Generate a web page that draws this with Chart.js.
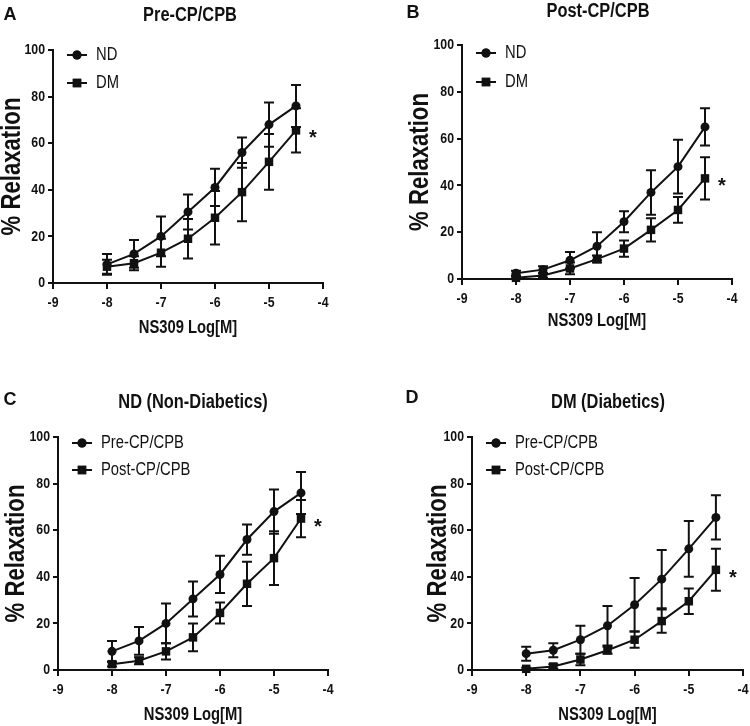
<!DOCTYPE html>
<html>
<head>
<meta charset="utf-8">
<script src="https://cdn.jsdelivr.net/npm/chart.js@4.4.1/dist/chart.umd.min.js"></script>
<style>
  body { margin: 0; background: #fff; }
  #page { position: relative; width: 750px; height: 726px; overflow: hidden; }
  .panel { position: absolute; }
</style>
</head>
<body>
<div id="page">
  <div class="panel" style="left:0;top:0"><canvas id="cA" width="375" height="350"></canvas></div>
  <div class="panel" style="left:375px;top:0"><canvas id="cB" width="375" height="350"></canvas></div>
  <div class="panel" style="left:0;top:360px"><canvas id="cC" width="375" height="366"></canvas></div>
  <div class="panel" style="left:375px;top:360px"><canvas id="cD" width="375" height="366"></canvas></div>
</div>
<script>
// NS309 concentrations (log M)
const doses = [-8, -7.5, -7, -6.5, -6, -5.5, -5, -4.5];
const xTicks = [-9, -8, -7, -6, -5, -4];
const yTicks = [0, 20, 40, 60, 80, 100];

// mean % relaxation and SEM
const preND = [8, 12.5, 20, 30.5, 41, 56, 68, 76];
const preNDErr = [4.5, 6, 8.5, 7.5, 8, 6.5, 9.5, 9];
const preDM = [7, 8.5, 13, 19, 28, 39, 52, 65.5];
const preDMErr = [3, 3, 6, 8.5, 11.5, 12.5, 12, 9.5];
const postND = [2.5, 4, 8, 14, 24.5, 37, 48, 65];
const postNDErr = [1, 1.5, 3.5, 6, 4.5, 9.5, 11.5, 8];
const postDM = [0.5, 1.5, 4.5, 8.5, 13, 21, 29.5, 43];
const postDMErr = [0.5, 1, 2.5, 1.5, 3.5, 5, 5.5, 9];

const INK = "#111";
const FONT = '"Liberation Sans", Arial, sans-serif';
const SQUEEZE = 0.82; // no condensed font installed, so squeeze Liberation Sans

const panels = [
  { id: "cA", letter: "A", title: "Pre-CP/CPB", names: ["ND", "DM"],
    series: [preND, preDM], errors: [preNDErr, preDMErr],
    w: 375, h: 350, area: [53, 323, 50, 283], yTitleX: 13, xTitleDy: 45,
    letterAt: [10, 15], titleAt: [190, 15], legendRows: [5, 33] },
  { id: "cB", letter: "B", title: "Post-CP/CPB", names: ["ND", "DM"],
    series: [postND, postDM], errors: [postNDErr, postDMErr],
    w: 375, h: 350, area: [87, 357, 45, 279], yTitleX: 46, xTitleDy: 42,
    letterAt: [38, 13], titleAt: [223, 11], legendRows: [8, 37] },
  { id: "cC", letter: "C", title: "ND (Non-Diabetics)", names: ["Pre-CP/CPB", "Post-CP/CPB"],
    series: [preND, postND], errors: [preNDErr, postNDErr],
    w: 375, h: 366, area: [58, 328, 77, 310], yTitleX: 17, xTitleDy: 45,
    letterAt: [10, 40], titleAt: [193, 42], legendRows: [6, 33] },
  { id: "cD", letter: "D", title: "DM (Diabetics)", names: ["Pre-CP/CPB", "Post-CP/CPB"],
    series: [preDM, postDM], errors: [preDMErr, postDMErr],
    w: 375, h: 366, area: [97, 368, 77, 310], yTitleX: 64, xTitleDy: 45,
    letterAt: [37, 38], titleAt: [233, 42], legendRows: [6, 33] },
];

function narrowText(ctx, text, x, y, font, align, rot) {
  ctx.save();
  ctx.translate(x, y);
  if (rot) ctx.rotate(rot);
  ctx.scale(SQUEEZE, 1);
  ctx.font = font;
  ctx.textAlign = align;
  ctx.textBaseline = "middle";
  ctx.fillText(text, 0, 0);
  ctx.restore();
}

// error bars (SEM) under the markers
const errorBarPlugin = {
  id: "errorBars",
  beforeDatasetsDraw(chart) {
    const { ctx, scales: { x, y } } = chart;
    ctx.save();
    ctx.strokeStyle = INK;
    ctx.lineWidth = 2;
    chart.data.datasets.forEach((ds) => {
      ds.data.forEach((p, i) => {
        const e = ds.err[i];
        const px = x.getPixelForValue(p.x);
        const yTop = y.getPixelForValue(p.y + e);
        const yBot = y.getPixelForValue(Math.max(0, p.y - e));
        ctx.beginPath();
        ctx.moveTo(px, yTop); ctx.lineTo(px, yBot);
        ctx.moveTo(px - 5, yTop); ctx.lineTo(px + 5, yTop);
        ctx.moveTo(px - 5, yBot); ctx.lineTo(px + 5, yBot);
        ctx.stroke();
      });
    });
    ctx.restore();
  },
};

// tick labels, axis titles, panel letter, title, legend and asterisk
const decorPlugin = {
  id: "decor",
  afterDraw(chart, args, opts) {
    const { ctx, chartArea, scales: { x, y } } = chart;
    const p = opts.panel;
    ctx.save();
    ctx.fillStyle = INK;

    xTicks.forEach((v) => {
      narrowText(ctx, String(v), x.getPixelForValue(v), chartArea.bottom + 20, "bold 15px " + FONT, "center");
    });
    yTicks.forEach((v) => {
      narrowText(ctx, String(v), chartArea.left - 8, y.getPixelForValue(v), "bold 15px " + FONT, "right");
    });
    narrowText(ctx, "NS309 Log[M]", (chartArea.left + chartArea.right) / 2, chartArea.bottom + p.xTitleDy,
               "bold 18px " + FONT, "center");
    narrowText(ctx, "% Relaxation", p.yTitleX, (chartArea.top + chartArea.bottom) / 2,
               "bold 27px " + FONT, "center", -Math.PI / 2);

    ctx.font = "bold 18px " + FONT;
    ctx.textAlign = "center";
    ctx.textBaseline = "middle";
    ctx.fillText(p.letter, p.letterAt[0], p.letterAt[1]);
    narrowText(ctx, p.title, p.titleAt[0], p.titleAt[1], "bold 20px " + FONT, "center");

    // legend: line through marker, then label
    chart.data.datasets.forEach((ds, i) => {
      const ly = chartArea.top + p.legendRows[i];
      const mx = chartArea.left + 24;
      ctx.strokeStyle = INK;
      ctx.lineWidth = 2;
      ctx.beginPath();
      ctx.moveTo(mx - 10, ly); ctx.lineTo(mx + 10, ly);
      ctx.stroke();
      Chart.helpers.drawPoint(ctx, { pointStyle: ds.pointStyle, radius: ds.pointRadius, borderWidth: 0 }, mx, ly);
      ctx.fill();
      narrowText(ctx, ds.label, chartArea.left + 43, ly, "18px " + FONT, "left");
    });

    // significance mark next to the last point of the second series
    const last = chart.data.datasets[1].data[doses.length - 1];
    ctx.textAlign = "center";
    ctx.textBaseline = "alphabetic";
    ctx.font = "bold 20px " + FONT;
    ctx.fillText("*", x.getPixelForValue(last.x) + 17, y.getPixelForValue(last.y) + 14);
    ctx.restore();
  },
};

function makeChart(p) {
  const [left, right, top, bottom] = p.area;
  const styles = [
    { pointStyle: "circle", pointRadius: 4.5 },
    { pointStyle: "rect", pointRadius: 6 },
  ];
  const datasets = p.series.map((vals, k) => ({
    label: p.names[k],
    data: doses.map((d, i) => ({ x: d, y: vals[i] })),
    err: p.errors[k],
    borderColor: INK,
    backgroundColor: INK,
    pointBackgroundColor: INK,
    pointBorderColor: INK,
    pointBorderWidth: 0,
    borderWidth: 2,
    tension: 0,
    clip: false,
    ...styles[k],
  }));

  const axisGrid = {
    display: true, drawOnChartArea: false, drawTicks: true,
    tickLength: 5, tickWidth: 2, tickColor: INK, color: INK, lineWidth: 2,
  };

  return new Chart(document.getElementById(p.id), {
    type: "line",
    data: { datasets },
    options: {
      responsive: false,
      animation: false,
      layout: { padding: { left: 0, right: p.w - right, top: top, bottom: 0 } },
      plugins: {
        legend: { display: false },
        tooltip: { enabled: false },
        decor: { panel: p },
      },
      scales: {
        x: {
          type: "linear", min: -9, max: -4,
          afterBuildTicks: (s) => { s.ticks = xTicks.map((v) => ({ value: v })); },
          afterFit: (s) => { s.height = p.h - bottom; s.paddingLeft = 0; s.paddingRight = 0; },
          grid: { ...axisGrid, tickLength: 6 },
          border: { display: true, color: INK, width: 2 },
          ticks: { display: false },
        },
        y: {
          type: "linear", min: 0, max: 100,
          afterBuildTicks: (s) => { s.ticks = yTicks.map((v) => ({ value: v })); },
          afterFit: (s) => { s.width = left; s.paddingTop = 0; s.paddingBottom = 0; },
          grid: axisGrid,
          border: { display: true, color: INK, width: 2 },
          ticks: { display: false },
        },
      },
    },
    plugins: [errorBarPlugin, decorPlugin],
  });
}

panels.forEach(makeChart);
</script>
</body>
</html>
